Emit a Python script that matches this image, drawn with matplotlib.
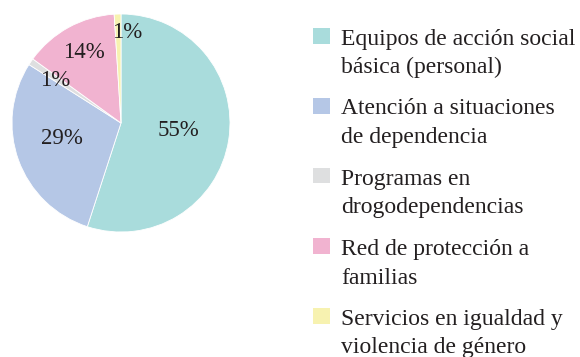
import matplotlib.pyplot as plt
from matplotlib.patches import Rectangle
import numpy as np

plt.rcParams['font.family'] = ['Liberation Serif', 'DejaVu Serif']

categories = [
    "Equipos de acción social\nbásica (personal)",
    "Atención a situaciones\nde dependencia",
    "Programas en\ndrogodependencias",
    "Red de protección a\nfamilias",
    "Servicios en igualdad y\nviolencia de género",
]
shares = [55, 29, 1, 14, 1]
colors = ["#a9dcdc", "#b5c7e6", "#dedfe0", "#f1b3d0", "#f7f2b0"]
# label placement: distance from centre (fraction of radius), angle nudge in degrees
label_radius = [0.53, 0.56, 0.72, 0.73, 0.83]
label_nudge = [2, -5.5, 1, -1.3, -5.8]

W, H = 580, 357
ink = "#231f20"

fig = plt.figure(figsize=(W / 100, H / 100), dpi=100)
ax = fig.add_axes([12 / W, 125 / H, 218 / W, 218 / H])

wedges, texts, autotexts = ax.pie(
    shares, colors=colors, startangle=90, counterclock=False,
    autopct="%d%%", wedgeprops=dict(edgecolor="white", linewidth=0.6),
    textprops=dict(fontsize=16.5, color=ink),
)
for w, t, r, d in zip(wedges, autotexts, label_radius, label_nudge):
    mid = np.deg2rad((w.theta1 + w.theta2) / 2 + d)
    t.set_position((r * np.cos(mid), r * np.sin(mid)))
ax.set_xlim(-1, 1)
ax.set_ylim(-1, 1)
ax.set_aspect('equal')
ax.axis('off')

# legend: square swatch next to the first line of each two-line label
for i, (label, c) in enumerate(zip(categories, colors)):
    base = 44.5 + i * 70
    fig.patches.append(Rectangle((313 / W, 1 - (base - 1) / H), 17 / W, 16 / H,
                                 transform=fig.transFigure, facecolor=c,
                                 edgecolor="none"))
    for j, line in enumerate(label.split("\n")):
        fig.text(341 / W, 1 - (base + j * 29) / H, line, fontsize=17,
                 color=ink, va="baseline", ha="left")

fig.savefig("out.png", dpi=100)
